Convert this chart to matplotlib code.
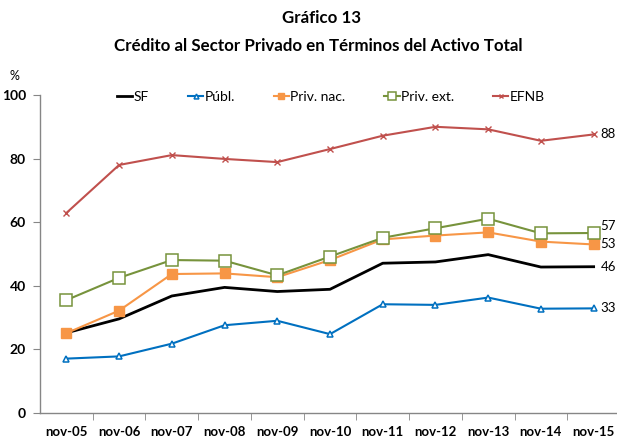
import matplotlib
matplotlib.use("Agg")
import matplotlib.pyplot as plt

categories = ["nov-05", "nov-06", "nov-07", "nov-08", "nov-09", "nov-10",
              "nov-11", "nov-12", "nov-13", "nov-14", "nov-15"]
sf = [25.2, 29.6, 36.8, 39.5, 38.2, 38.9, 47.1, 47.5, 49.8, 45.9, 46.0]
publ = [17.1, 17.8, 21.8, 27.6, 29.0, 24.8, 34.2, 34.0, 36.3, 32.8, 32.9]
priv_nac = [25.1, 32.2, 43.7, 43.9, 42.7, 48.1, 54.6, 55.8, 56.8, 53.9, 53.0]
priv_ext = [35.5, 42.5, 48.1, 47.9, 43.3, 49.2, 55.1, 58.1, 61.1, 56.5, 56.6]
efnb = [62.9, 78.0, 81.1, 79.9, 78.9, 83.0, 87.2, 90.0, 89.2, 85.6, 87.6]
end_labels = ["46", "33", "53", "57", "88"]
yticks = [0, 20, 40, 60, 80, 100]

plt.rcParams['font.family'] = ['Lato', 'DejaVu Sans']

W, H = 617, 437
fig = plt.figure(figsize=(W / 100, H / 100), dpi=100)
ax = fig.add_axes([40 / W, 24 / H, 580 / W, 318 / H])

x = list(range(len(categories)))
ax.plot(x, sf, color="black", lw=2.0, label="SF")
ax.plot(x, publ, color="#0070C0", lw=1.5, marker="^", ms=5, mfc="white",
        mec="#0070C0", mew=1.1, label="Públ.")
ax.plot(x, priv_nac, color="#F79646", lw=1.5, marker="s", ms=7,
        mfc="#F79646", mec="#F79646", label="Priv. nac.")
ax.plot(x, priv_ext, color="#77933C", lw=1.5, marker="s", ms=8, mfc="white",
        mec="#77933C", mew=1.1, label="Priv. ext.")
ax.plot(x, efnb, color="#C0504D", lw=1.5, marker="x", ms=4, mew=1.0,
        label="EFNB")

last = len(categories) - 1
offsets = {"46": 0, "33": 0, "53": 0, "57": 2.2, "88": 0}
for series, lab in zip([sf, publ, priv_nac, priv_ext, efnb], end_labels):
    ax.annotate(lab, (last, series[-1] + offsets[lab]), xytext=(5, 0),
                textcoords="offset points", va="center", ha="left",
                fontsize=9.5, color="black")

ax.set_xlim(-0.5, len(categories) - 0.5)
ax.set_ylim(0, 100)
ax.set_yticks(yticks)
ax.set_yticklabels([str(v) for v in yticks], fontweight="bold", fontsize=10)
ax.set_xticks(x)
ax.set_xticklabels(categories, fontweight="bold", fontsize=9.5)
ax.tick_params(axis="x", length=0, pad=9)
ax.set_xticks([i - 0.5 for i in range(1, len(categories))], minor=True)
ax.tick_params(axis="x", which="minor", length=5, direction="out",
               color="#868686")
ax.tick_params(axis="y", length=5, direction="out", color="#868686", pad=5)

for s in ["top", "right"]:
    ax.spines[s].set_visible(False)
for s in ["left", "bottom"]:
    ax.spines[s].set_color("#868686")
    ax.spines[s].set_linewidth(1.0)

leg = ax.legend(ncol=5, loc="center", bbox_to_anchor=(291 / 580, 0.995),
                frameon=False, fontsize=10, handlelength=1.1,
                columnspacing=2.8, handletextpad=0.1, markerscale=0.7)

fig.text(321 / W, 1 - 18 / H, "Gráfico 13", ha="center", va="center",
         fontsize=12.2, fontweight="bold")
fig.text(318 / W, 1 - 46 / H,
         "Crédito al Sector Privado en Términos del Activo Total",
         ha="center", va="center", fontsize=12.2, fontweight="bold")
fig.text(14 / W, 1 - 76 / H, "%", ha="center", va="center", fontsize=9)

fig.savefig("out.png", dpi=100)
